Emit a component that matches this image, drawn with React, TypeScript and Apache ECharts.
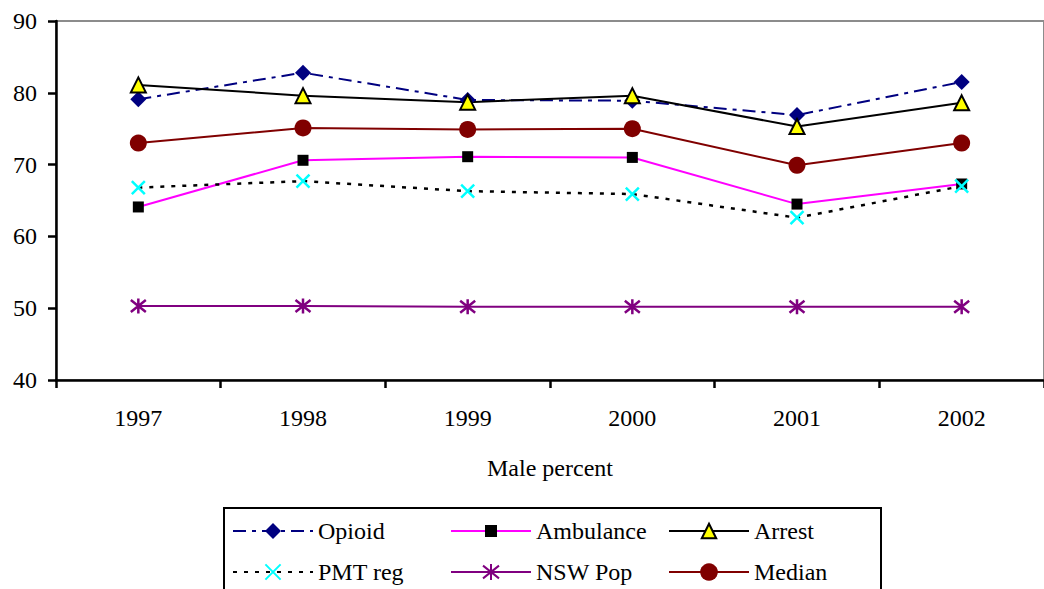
import React, { useEffect, useRef } from "react";
import * as echarts from "echarts";

const years = ["1997", "1998", "1999", "2000", "2001", "2002"];
const opioid = [79.1, 82.8, 79.0, 78.9, 76.9, 81.5];
const ambulance = [64.1, 70.6, 71.1, 71.0, 64.5, 67.3];
const arrest = [81.1, 79.6, 78.7, 79.6, 75.3, 78.6];
const pmtReg = [66.8, 67.7, 66.3, 65.9, 62.6, 67.0];
const nswPop = [50.3, 50.3, 50.2, 50.2, 50.2, 50.2];
const median = [73.0, 75.1, 74.9, 75.0, 69.9, 73.0];

const legendRows = [
  ["Opioid", "Ambulance", "Arrest"],
  ["PMT reg", "NSW Pop", "Median"],
];
const legendSymbolHeights: Record<string, number> = {
  Opioid: 20,
  Ambulance: 15,
  Arrest: 18,
  "PMT reg": 19,
  "NSW Pop": 20,
  Median: 22,
};

const FONT = "Liberation Serif";
const X_PATH = "path://M0,0L10,10M10,0L0,10";
const STAR_PATH = "path://M1,1L9,9M9,1L1,9M5,0L5,10";

export default function App() {
  const ref = useRef<HTMLDivElement>(null);
  useEffect(() => {
    if (!ref.current) return;
    const chart = echarts.init(ref.current, undefined, { renderer: "svg" });
    const colLeft = [232, 450, 668];
    const rowCenter = [531, 572];
    const textH = 24;
    const legends: any[] = [];
    legendRows.forEach((row, r) =>
      row.forEach((name, c) => {
        const h = legendSymbolHeights[name];
        legends.push({
          data: [name],
          left: colLeft[c],
          top: rowCenter[r] - Math.max(h, textH) / 2,
          padding: 0,
          itemWidth: 80,
          itemHeight: h,
          textStyle: { fontFamily: FONT, fontSize: 24, color: "#000" },
        });
      })
    );
    chart.setOption({
      animation: false,
      backgroundColor: "#fff",
      textStyle: { fontFamily: FONT },
      grid: {
        left: 56,
        top: 21,
        width: 996,
        height: 359,
        show: true,
        borderColor: "#8c8c8c",
        borderWidth: 2,
        backgroundColor: "transparent",
      },
      xAxis: {
        type: "category",
        data: years,
        boundaryGap: true,
        name: "Male percent",
        nameLocation: "middle",
        nameGap: 76,
        nameTextStyle: { fontFamily: FONT, fontSize: 24, color: "#000" },
        axisLine: { lineStyle: { color: "#000", width: 2.5 } },
        axisTick: { show: true, length: 8, lineStyle: { color: "#000", width: 2.5 } },
        axisLabel: { fontFamily: FONT, fontSize: 24, color: "#000", margin: 26 },
        splitLine: { show: false },
      },
      yAxis: {
        type: "value",
        min: 40,
        max: 90,
        interval: 10,
        axisLine: { show: true, lineStyle: { color: "#000", width: 2.5 } },
        axisTick: { show: true, length: 8, lineStyle: { color: "#000", width: 2.5 } },
        axisLabel: { fontFamily: FONT, fontSize: 24, color: "#000", margin: 19 },
        splitLine: { show: false },
      },
      legend: legends,
      graphic: [
        {
          type: "rect",
          shape: { x: 224, y: 508, width: 657, height: 100 },
          style: { fill: "transparent", stroke: "#000", lineWidth: 2 },
          z: -1,
        },
      ],
      series: [
        {
          name: "Opioid",
          type: "line",
          data: opioid,
          symbol: "diamond",
          symbolSize: 16,
          itemStyle: { color: "#000080" },
          lineStyle: { color: "#000080", width: 2, type: [13, 6, 4, 6] },
        },
        {
          name: "Ambulance",
          type: "line",
          data: ambulance,
          symbol: "rect",
          symbolSize: 11,
          itemStyle: { color: "#000" },
          lineStyle: { color: "#FF00FF", width: 2 },
        },
        {
          name: "Arrest",
          type: "line",
          data: arrest,
          symbol: "triangle",
          symbolSize: 15,
          itemStyle: { color: "#FFFF00", borderColor: "#000", borderWidth: 2 },
          lineStyle: { color: "#000", width: 2 },
        },
        {
          name: "PMT reg",
          type: "line",
          data: pmtReg,
          symbol: X_PATH,
          symbolSize: 13,
          itemStyle: { color: "rgba(0,0,0,0)", borderColor: "#00FFFF", borderWidth: 2.5 },
          lineStyle: { color: "#000", width: 2.5, type: [4, 7] },
        },
        {
          name: "NSW Pop",
          type: "line",
          data: nswPop,
          symbol: STAR_PATH,
          symbolSize: 15,
          itemStyle: { color: "rgba(0,0,0,0)", borderColor: "#800080", borderWidth: 2.5 },
          lineStyle: { color: "#800080", width: 2 },
        },
        {
          name: "Median",
          type: "line",
          data: median,
          symbol: "circle",
          symbolSize: 17,
          itemStyle: { color: "#800000" },
          lineStyle: { color: "#800000", width: 2 },
        },
      ],
    });
    return () => chart.dispose();
  }, []);
  return (
    <div
      ref={ref}
      style={{ position: "fixed", left: 0, top: 0, width: 1044, height: 589 }}
    />
  );
}
